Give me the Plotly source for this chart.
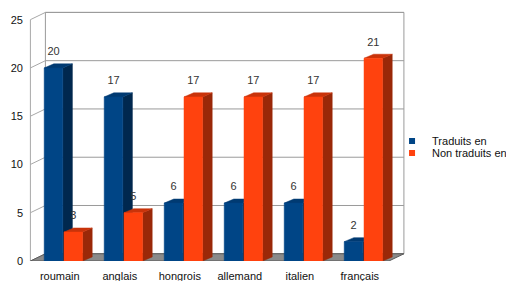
import plotly.graph_objects as go

categories = ["roumain", "anglais", "hongrois", "allemand", "italien", "français"]
traduits = [20, 17, 6, 6, 6, 2]
non_traduits = [3, 5, 17, 17, 17, 21]
series_names = ["Traduits en", "Non traduits en"]
y_ticks = [0, 5, 10, 15, 20, 25]

# ---- geometry (pseudo-3D look) ----
X_LEFT, X_RIGHT = -0.55, 5.425      # front edges of floor
WDX, WDY = 0.25, 0.75               # wall depth offset
BDX, BDY = 0.16, 0.42               # bar depth offset
YMAX = 25
FONT = "Liberation Sans, Arial, sans-serif"

BLUE = dict(front="#004586", side="#00284f", top="#003a72")
ORANGE = dict(front="#ff420e", side="#9a2808", top="#c9330a")

fig = go.Figure()

def line(xs, ys, color="#a0a0a0", width=1):
    fig.add_trace(go.Scatter(x=xs, y=ys, mode="lines", line=dict(color=color, width=width),
                             hoverinfo="skip", showlegend=False))

# back wall
bx0, bx1 = X_LEFT + WDX, X_RIGHT + WDX
fig.add_trace(go.Scatter(x=[bx0, bx1, bx1, bx0, bx0], y=[WDY, WDY, YMAX + WDY, YMAX + WDY, WDY],
                         mode="lines", fill="toself", fillcolor="white",
                         line=dict(color="#9a9a9a", width=1), hoverinfo="skip", showlegend=False))
gx, gy = [], []
for v in y_ticks:
    gx += [bx0, bx1, None]
    gy += [v + WDY, v + WDY, None]
line(gx, gy, "#9a9a9a")
# left wall
lx, ly = [X_LEFT, X_LEFT, None], [0, YMAX, None]
for v in y_ticks:
    lx += [X_LEFT, X_LEFT + WDX, None]
    ly += [v, v + WDY, None]
line(lx, ly, "#a8a8a8")
# floor
fig.add_trace(go.Scatter(x=[X_LEFT, X_RIGHT, X_RIGHT + WDX, X_LEFT + WDX, X_LEFT],
                         y=[0, 0, WDY, WDY, 0], mode="lines", fill="toself", fillcolor="#8a8a8a",
                         line=dict(color="#5a5a5a", width=1), hoverinfo="skip", showlegend=False))


def add_bars(vals, x0off, x1off, col):
    F = ([], [])
    S = ([], [])
    T = ([], [])
    for i, v in enumerate(vals):
        a, b = i + x0off, i + x1off
        F[0].extend([a, b, b, a, a, None]); F[1].extend([0, 0, v, v, 0, None])
        S[0].extend([b, b + BDX, b + BDX, b, b, None]); S[1].extend([0, BDY, v + BDY, v, 0, None])
        T[0].extend([a, a + BDX, b + BDX, b, a, None]); T[1].extend([v, v + BDY, v + BDY, v, v, None])
    for (xs, ys), c in ((S, col["side"]), (T, col["top"]), (F, col["front"])):
        fig.add_trace(go.Scatter(x=xs, y=ys, mode="lines", fill="toself", fillcolor=c,
                                 line=dict(color=c, width=0.5), hoverinfo="skip", showlegend=False))
    fig.add_trace(go.Scatter(x=[i + (x0off + x1off) / 2 for i in range(len(vals))],
                             y=[v + 1.6 for v in vals], mode="text", text=[str(v) for v in vals],
                             textfont=dict(family=FONT, size=11, color="#333333"),
                             hoverinfo="skip", showlegend=False))

add_bars(traduits, -0.32, -0.01, BLUE)
add_bars(non_traduits, 0.01, 0.32, ORANGE)

# legend entries
fig.add_trace(go.Scatter(x=[None], y=[None], mode="markers", name=series_names[0],
                         marker=dict(symbol="square", size=6, color=BLUE["front"]), legend="legend"))
fig.add_trace(go.Scatter(x=[None], y=[None], mode="markers", name=series_names[1],
                         marker=dict(symbol="square", size=6, color=ORANGE["front"]), legend="legend2"))

leg = dict(font=dict(family=FONT, size=11, color="#111"), bgcolor="rgba(0,0,0,0)",
           xanchor="left", yanchor="middle", borderwidth=0, itemwidth=30)
fig.update_layout(
    width=514, height=281,
    margin=dict(l=20, r=114, t=2, b=28, autoexpand=False),
    paper_bgcolor="white", plot_bgcolor="white",
    showlegend=True,
    legend=dict(x=0.958, y=0.478, **leg),
    legend2=dict(x=0.958, y=0.430, **leg),
    xaxis=dict(range=[-0.59, 5.743], tickmode="array",
               tickvals=[i - 0.06 for i in range(len(categories))], ticktext=categories,
               showgrid=False, zeroline=False, showline=False, ticks="", ticklabelstandoff=7,
               tickfont=dict(family=FONT, size=11, color="#111")),
    yaxis=dict(range=[0, 26], tickmode="array", tickvals=y_ticks,
               showgrid=False, zeroline=False, showline=False, ticks="", ticklabelstandoff=4,
               tickfont=dict(family=FONT, size=11, color="#111")),
)

fig.write_html("out.html")
